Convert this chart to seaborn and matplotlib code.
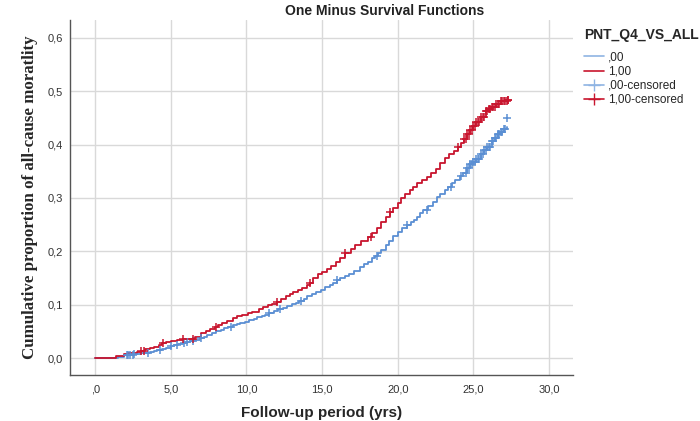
import numpy as np
import pandas as pd
import matplotlib
matplotlib.use("Agg")
import matplotlib.pyplot as plt
import seaborn as sns
from matplotlib.lines import Line2D
from matplotlib.ticker import FuncFormatter

# ---- data ----
t_00 = [0.0, 1.2, 1.5, 1.9, 2.3, 2.6, 3.0, 3.3, 3.6, 3.9, 4.1, 4.4, 4.7, 5.0, 5.2, 5.5, 5.8, 6.0, 6.3, 6.6,
        6.9, 7.2, 7.4, 7.7, 8.0, 8.3, 8.5, 8.8, 9.1, 9.4, 9.6, 9.9, 10.2, 10.5, 10.7, 11.0, 11.2, 11.5,
        11.8, 12.1, 12.4, 12.7, 13.0, 13.3, 13.5, 13.8, 14.0, 14.3, 14.6, 14.9, 15.2, 15.5, 15.7, 16.0,
        16.2, 16.5, 16.8, 17.1, 17.5, 17.8, 18.0, 18.3, 18.5, 18.7, 18.9, 19.2, 19.4, 19.7, 20.0, 20.3,
        20.6, 20.9, 21.1, 21.3, 21.5, 21.7, 22.0, 22.3, 22.6, 22.8, 23.1, 23.3, 23.6, 23.8, 24.1, 24.3,
        24.6, 24.8, 25.0, 25.2, 25.5, 25.7, 25.9, 26.2, 26.4, 26.6, 26.8, 27.0, 27.2]
v_00 = [0.000, 0.000, 0.002, 0.005, 0.006, 0.007, 0.009, 0.010, 0.012, 0.014, 0.015, 0.017, 0.019, 0.022,
        0.024, 0.026, 0.028, 0.030, 0.032, 0.034, 0.037, 0.040, 0.043, 0.046, 0.050, 0.053, 0.056, 0.058,
        0.061, 0.064, 0.066, 0.068, 0.071, 0.074, 0.077, 0.079, 0.081, 0.085, 0.088, 0.091, 0.094, 0.097,
        0.101, 0.104, 0.107, 0.111, 0.116, 0.120, 0.124, 0.128, 0.133, 0.137, 0.140, 0.146, 0.150, 0.154,
        0.158, 0.163, 0.170, 0.176, 0.180, 0.187, 0.192, 0.197, 0.203, 0.212, 0.220, 0.228, 0.236, 0.243,
        0.250, 0.255, 0.258, 0.265, 0.271, 0.277, 0.285, 0.293, 0.301, 0.308, 0.315, 0.320, 0.328, 0.334,
        0.342, 0.347, 0.356, 0.363, 0.368, 0.373, 0.383, 0.389, 0.395, 0.406, 0.413, 0.419, 0.424, 0.430, 0.432]

t_10 = [0.0, 1.1, 1.4, 1.9, 2.2, 2.5, 2.8, 3.0, 3.3, 3.6, 3.9, 4.2, 4.4, 4.7, 5.0, 5.4, 5.8, 6.3, 6.6, 7.0,
        7.3, 7.6, 7.9, 8.1, 8.4, 8.7, 9.1, 9.4, 9.7, 10.1, 10.4, 10.8, 11.1, 11.4, 11.7, 12.0, 12.3, 12.6,
        12.9, 13.1, 13.4, 13.7, 14.0, 14.2, 14.4, 14.7, 15.0, 15.3, 15.6, 15.9, 16.2, 16.5, 16.9, 17.2,
        17.6, 18.0, 18.3, 18.6, 18.9, 19.2, 19.5, 19.7, 20.0, 20.2, 20.5, 20.8, 21.0, 21.3, 21.6, 21.9,
        22.2, 22.5, 22.8, 23.1, 23.4, 23.7, 24.0, 24.2, 24.4, 24.6, 24.8, 25.0, 25.2, 25.5, 25.8, 26.0,
        26.2, 26.5, 26.8, 27.3]
v_10 = [0.000, 0.000, 0.003, 0.007, 0.009, 0.010, 0.012, 0.013, 0.016, 0.019, 0.021, 0.024, 0.028, 0.030,
        0.031, 0.034, 0.035, 0.036, 0.040, 0.047, 0.051, 0.055, 0.059, 0.062, 0.066, 0.070, 0.075, 0.078,
        0.081, 0.084, 0.087, 0.091, 0.095, 0.099, 0.102, 0.105, 0.110, 0.116, 0.120, 0.124, 0.128, 0.132,
        0.137, 0.140, 0.150, 0.157, 0.162, 0.167, 0.172, 0.180, 0.188, 0.196, 0.205, 0.212, 0.219, 0.227,
        0.235, 0.244, 0.255, 0.264, 0.274, 0.281, 0.290, 0.300, 0.308, 0.314, 0.320, 0.328, 0.334, 0.340,
        0.347, 0.355, 0.366, 0.375, 0.382, 0.388, 0.395, 0.402, 0.410, 0.420, 0.428, 0.434, 0.442, 0.452,
        0.462, 0.467, 0.471, 0.476, 0.482, 0.483]

cens_00 = [2.1, 2.2, 2.3, 2.5, 2.6, 3.5, 4.3, 5.0, 5.4, 5.9, 6.1, 6.5, 7.0, 9.0, 11.5, 12.2, 13.6, 16.0,
           18.6, 20.6, 21.9, 23.5, 24.2, 24.5, 24.6, 24.7, 24.8, 24.9, 25.0, 25.1, 25.2, 25.3, 25.4, 25.5,
           25.6, 25.7, 25.8, 25.9, 26.0, 26.1, 26.2, 26.3, 26.4, 26.5, 26.6, 26.7, 26.8, 26.9, 27.0, 27.1]
cens_10 = [3.0, 3.2, 4.5, 5.8, 6.5, 8.0, 12.0, 14.2, 16.5, 18.2, 19.5, 24.0, 24.4, 24.5, 24.6, 24.7, 24.8,
           24.9, 25.0, 25.1, 25.2, 25.3, 25.4, 25.5, 25.6, 25.7, 25.8, 25.9, 26.0, 26.1, 26.2, 26.3, 26.4,
           26.5, 26.6, 26.7, 26.8, 26.9, 27.0, 27.1, 27.2, 27.3]
last_cens = {",00": (27.2, 0.449), "1,00": (27.3, 0.483)}

groups = [",00", "1,00"]
colors = {",00": "#5b8fd3", "1,00": "#c8152e"}

def step_value(ts, vs, t):
    i = np.searchsorted(ts, t, side="right") - 1
    return vs[max(i, 0)]

curves = pd.concat([
    pd.DataFrame({"t": t_00, "v": v_00, "g": ",00"}),
    pd.DataFrame({"t": t_10, "v": v_10, "g": "1,00"}),
])
cens_rows = []
for g, ts, vs, cs in [(",00", t_00, v_00, cens_00), ("1,00", t_10, v_10, cens_10)]:
    for c in cs:
        cens_rows.append({"t": c, "v": step_value(np.array(ts), vs, c), "g": g})
    cens_rows.append({"t": last_cens[g][0], "v": last_cens[g][1], "g": g})
cens = pd.DataFrame(cens_rows)

sns.set_theme(style="whitegrid")
plt.rcParams["font.family"] = ["Liberation Sans", "DejaVu Sans"]

fig = plt.figure(figsize=(7.0, 4.21), dpi=100)
ax = fig.add_axes([0.1, 0.109, 0.719, 0.843])

for g in groups:
    d = curves[curves.g == g]
    sns.lineplot(data=d, x="t", y="v", ax=ax, color=colors[g], lw=1.3,
                 drawstyle="steps-post", estimator=None, sort=False, legend=False)
    dc = cens[cens.g == g]
    ax.scatter(dc.t, dc.v, marker="+", s=28, color=colors[g], linewidths=1.1, zorder=3)

ax.set_xlim(-1.66, 31.6)
ax.set_ylim(-0.032, 0.633)
ax.set_xticks([0, 5, 10, 15, 20, 25, 30])
ax.set_yticks([0, 0.1, 0.2, 0.3, 0.4, 0.5, 0.6])
ax.xaxis.set_major_formatter(FuncFormatter(lambda x, p: ",0" if abs(x) < 1e-9 else f"{x:.1f}".replace(".", ",")))
ax.yaxis.set_major_formatter(FuncFormatter(lambda x, p: f"{x:.1f}".replace(".", ",")))
ax.tick_params(axis="x", length=0, labelsize=8, colors="#333333", pad=7)
ax.tick_params(axis="y", length=0, labelsize=8, colors="#333333", pad=5)

ax.grid(True, color="#d9d9d9", lw=1.0)
for s in ["top", "right"]:
    ax.spines[s].set_visible(False)
for s in ["left", "bottom"]:
    ax.spines[s].set_color("#555555")
    ax.spines[s].set_linewidth(1.0)

ax.set_xlabel("Follow-up period (yrs)", fontsize=11, fontweight="bold", labelpad=8)
ax.set_ylabel("Cumulative proportion of all-cause moratlity", fontsize=12.2, fontweight="bold",
              family=["Liberation Serif"], labelpad=7)
fig.text(0.55, 0.975, "One Minus Survival Functions", ha="center", va="center",
         fontsize=10, fontweight="bold", color="#222222")

handles = [
    Line2D([], [], color="#8fb4e3", lw=1.2),
    Line2D([], [], color=colors["1,00"], lw=1.2),
    Line2D([], [], color="#8fb4e3", lw=1.2, marker="+", markersize=8),
    Line2D([], [], color=colors["1,00"], lw=1.2, marker="+", markersize=8),
]
labels = [",00", "1,00", ",00-censored", "1,00-censored"]
leg = fig.legend(handles, labels, title="PNT_Q4_VS_ALL", loc="upper left",
                 bbox_to_anchor=(0.828, 0.945), frameon=False, fontsize=8.5,
                 handlelength=1.7, handletextpad=0.3, labelspacing=0.18, borderaxespad=0)
leg.get_title().set_fontweight("bold")
leg.get_title().set_fontsize(10)
leg._legend_box.align = "left"
leg._legend_box.sep = 7

fig.savefig("out.png", dpi=100)
